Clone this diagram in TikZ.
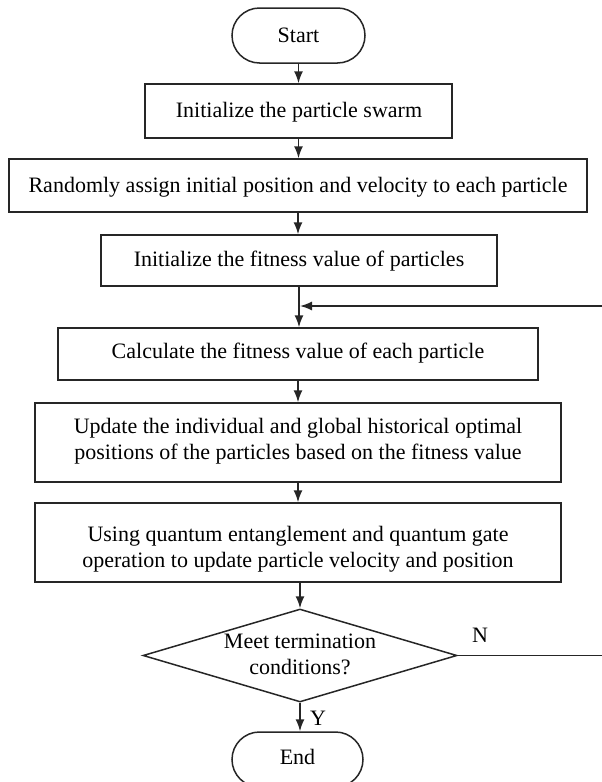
\documentclass[tikz,border=0pt]{standalone}
\usepackage{fontspec}
\setmainfont{Liberation Serif}
\usetikzlibrary{shapes.geometric,shapes.misc,arrows.meta}

\tikzset{
  stroke/.style={draw=black!85, line width=1.5pt},
  box/.style={stroke, rectangle, inner sep=0pt},
  term/.style={stroke, rounded rectangle, inner sep=0pt},
  decision/.style={stroke, diamond, inner sep=0pt},
  txt/.style={font=\fontsize{22}{26}\selectfont, inner sep=0pt,
              text height=15pt, text depth=5pt},
  arr/.style={stroke, -{Latex[length=12pt,width=9pt]}},
}

\begin{document}
\begin{tikzpicture}[x=1pt, y=-1pt]
  \useasboundingbox (0,0) rectangle (602,782);

  % process boxes
  \node[term, minimum width=133pt, minimum height=55pt] (start) at (298.5,35.5) {};
  \node[box, minimum width=307pt, minimum height=54pt] (b1) at (298.5,111) {};
  \node[box, minimum width=578pt, minimum height=53pt] (b2) at (298,185.5) {};
  \node[box, minimum width=396pt, minimum height=51pt] (b3) at (299,260.5) {};
  \node[box, minimum width=480pt, minimum height=52pt] (b4) at (298,354) {};
  \node[box, minimum width=526pt, minimum height=79pt] (b5) at (298,442.5) {};
  \node[box, minimum width=526pt, minimum height=79pt] (b6) at (298,542.5) {};
  \node[decision, minimum width=314pt, minimum height=93pt] (dec) at (300,655.5) {};
  \node[term, minimum width=131pt, minimum height=55pt] (end) at (297.5,759.5) {};

  % texts
  \node[txt] (tstart) at (298.5,37) {Start};
  \node[txt] (t1) at (299,112) {Initialize the particle swarm};
  \node[txt] (t2) at (298,187) {Randomly assign initial position and velocity to each particle};
  \node[txt] (t3) at (299,261) {Initialize the fitness value of particles};
  \node[txt] (t4) at (298,353) {Calculate the fitness value of each particle};
  \node[txt] (t5a) at (298,428) {Update the individual and global historical optimal};
  \node[txt] (t5b) at (298,454) {positions of the particles based on the fitness value};
  \node[txt] (t6a) at (298,536) {Using quantum entanglement and quantum gate};
  \node[txt] (t6b) at (298,562) {operation to update particle velocity and position};
  \node[txt] (tda) at (300,643) {Meet termination};
  \node[txt] (tdb) at (300,669) {conditions?};
  \node[txt] (tend) at (297.5,759) {End};
  \node[txt] (lN) at (480,637) {N};
  \node[txt] (lY) at (318,720) {Y};

  % main flow
  \coordinate (j) at (299,306);
  \draw[arr] (start.south) -- (start.south |- b1.north);
  \draw[arr] (b1.south) -- (b1.south |- b2.north);
  \draw[arr] (b2.south) -- (b2.south |- b3.north);
  \draw[arr] (b3.south) -- (b3.south |- b4.north);
  \draw[arr] (b4.south) -- (b4.south |- b5.north);
  \draw[arr] (b5.south) -- (b5.south |- b6.north);
  \draw[arr] (b6.south -| dec.north) -- (dec.north);
  \draw[arr] (dec.south) -- (dec.south |- end.north);

  % loop back when not terminated
  \coordinate (rb) at (612,655.5);
  \coordinate (rt) at (612,306);
  \draw[arr] (dec.east) -- (rb) -- (rt) -- ([xshift=1pt]j);
\end{tikzpicture}
\end{document}
